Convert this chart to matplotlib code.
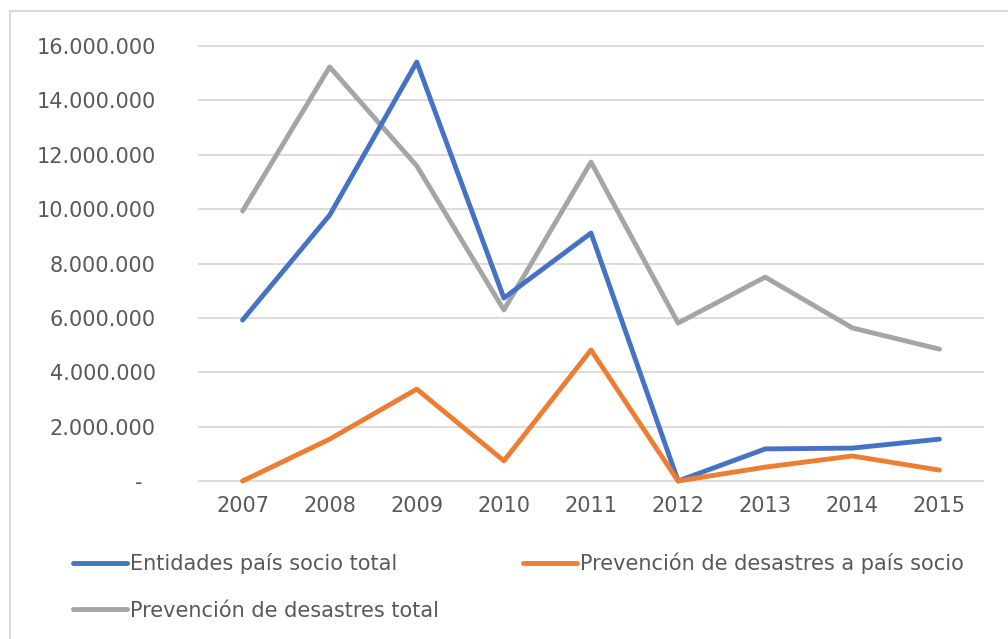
import matplotlib
matplotlib.use("Agg")
import matplotlib.pyplot as plt
from matplotlib.patches import Rectangle
from matplotlib.ticker import FuncFormatter

years = ["2007", "2008", "2009", "2010", "2011", "2012", "2013", "2014", "2015"]
entidades_total = [5920000, 9780000, 15410000, 6730000, 9120000, 0, 1180000, 1210000, 1540000]
prevencion_socio = [0, 1540000, 3380000, 740000, 4820000, 0, 510000, 920000, 400000]
prevencion_total = [9930000, 15230000, 11590000, 6290000, 11730000, 5810000, 7500000, 5630000, 4850000]

text_color = "#595959"
grid_color = "#D9D9D9"

plt.rcParams["font.family"] = ["DejaVu Sans"]

fig = plt.figure(figsize=(10.08, 6.39), dpi=100)
ax = fig.add_axes([199 / 1008, 158 / 639, 784 / 1008, 435 / 639])

x = range(len(years))
l1, = ax.plot(x, entidades_total, color="#4472C4", lw=3.5, solid_capstyle="round",
              solid_joinstyle="round", label="Entidades país socio total", zorder=3)
l2, = ax.plot(x, prevencion_socio, color="#ED7D31", lw=3.5, solid_capstyle="round",
              solid_joinstyle="round", label="Prevención de desastres a país socio", zorder=3)
l3, = ax.plot(x, prevencion_total, color="#A5A5A5", lw=3.5, solid_capstyle="round",
              solid_joinstyle="round", label="Prevención de desastres total", zorder=2)
for ln in (l1, l2, l3):
    ln.set_clip_on(False)

ax.set_xlim(-0.5, len(years) - 0.5)
ax.set_ylim(0, 16000000)
ax.set_yticks(range(0, 16000001, 2000000))
ax.set_xticks(list(x))
ax.set_xticklabels(years)


def fmt(v, pos):
    if v == 0:
        return "-  "
    return f"{int(v):,}".replace(",", ".")


ax.yaxis.set_major_formatter(FuncFormatter(fmt))
ax.grid(axis="y", color=grid_color, lw=1.3)
for gl in ax.get_ygridlines():
    gl.set_clip_on(False)
ax.set_axisbelow(True)
for s in ax.spines.values():
    s.set_visible(False)
ax.tick_params(axis="y", length=0, pad=31, labelsize=15, labelcolor=text_color)
ax.tick_params(axis="x", length=0, pad=11, labelsize=15, labelcolor=text_color)

fig.legend([l1, l3, l2], [l1.get_label(), l3.get_label(), l2.get_label()],
           ncol=2, loc="upper left", bbox_to_anchor=(73 / 1008, 86 / 639),
           frameon=False, fontsize=15, labelcolor=text_color,
           handlelength=2.6, handletextpad=0.15, columnspacing=4.0,
           labelspacing=1.25, borderpad=0, borderaxespad=0)

fig.patches.append(Rectangle((10 / 1008, -0.1), 1.2, 1.1 - 11.5 / 639,
                             transform=fig.transFigure, fill=False,
                             edgecolor=grid_color, lw=1.5))

fig.savefig("out.png", dpi=100)
